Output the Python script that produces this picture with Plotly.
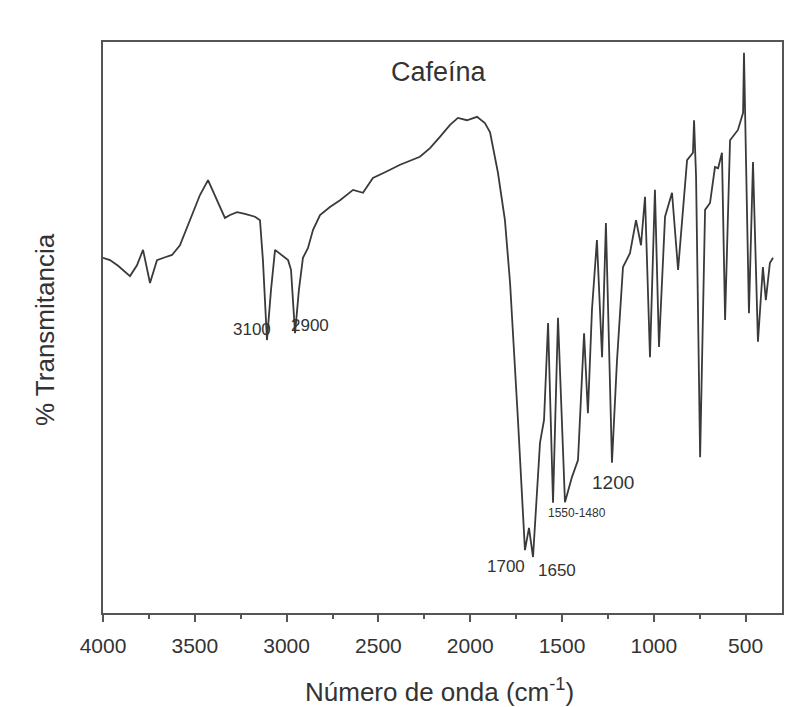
import plotly.graph_objects as go

# Wavenumber (cm^-1) and % transmittance
wavenumber = [4000, 3962, 3918, 3853, 3815, 3782, 3744, 3706, 3662, 3624, 3581, 3526, 3472, 3428,
              3390, 3336, 3308, 3270, 3227, 3172, 3145, 3129, 3107, 3085, 3063, 3025, 2992, 2976,
              2954, 2933, 2911, 2884, 2856, 2818, 2764, 2709, 2638, 2584, 2530, 2464, 2382, 2274,
              2219, 2165, 2110, 2067, 2018, 1963, 1920, 1892, 1849, 1811, 1783, 1740, 1702, 1680,
              1658, 1620, 1598, 1576, 1549, 1522, 1484, 1446, 1413, 1380, 1359, 1337, 1310, 1282,
              1261, 1228, 1201, 1168, 1130, 1097, 1070, 1048, 1021, 994, 972, 939, 901, 868, 819,
              787, 781, 770, 748, 721, 694, 667, 650, 629, 612, 585, 542, 514, 509, 498, 482, 460,
              449, 433, 406, 390, 368, 351]
transmittance = [62.2, 61.8, 60.8, 59.0, 60.9, 63.6, 57.8, 61.8, 62.3, 62.7, 64.4, 68.8, 73.2, 75.8,
                 73.2, 69.2, 69.7, 70.2, 69.9, 69.4, 68.8, 61.8, 47.8, 56.6, 63.6, 62.7, 61.8, 60.1,
                 49.0, 56.6, 62.2, 63.9, 67.1, 69.7, 71.1, 72.3, 74.1, 73.6, 76.2, 77.2, 78.5, 79.9,
                 81.4, 83.4, 85.5, 86.7, 86.3, 86.9, 85.8, 84.2, 77.1, 68.8, 57.8, 33.8, 11.0, 14.9,
                 9.8, 29.8, 33.8, 50.8, 19.3, 51.7, 19.4, 23.8, 26.8, 49.0, 35.0, 53.1, 65.3, 44.8,
                 68.3, 26.3, 44.0, 60.6, 63.0, 68.8, 64.4, 72.9, 44.8, 74.1, 46.6, 69.4, 73.6, 60.1, 79.3,
                 80.6, 86.3, 76.4, 27.3, 70.6, 71.8, 78.1, 77.9, 80.6, 51.3, 82.8, 84.6, 87.6, 98.1, 79.3,
                 52.5, 79.0, 65.3, 47.5, 60.6, 54.8, 61.3, 62.2]

# Peak labels: text, wavenumber position, transmittance position, font size
peak_text = ["3100", "2900", "1700", "1650", "1550-1480", "1200"]
peak_x = [3189, 2873, 1805, 1527, 1418, 1222]
peak_y = [49.6, 50.3, 8.1, 7.5, 17.5, 22.9]
peak_size = [17, 17, 17, 17, 12, 19]

tick_vals = [4000, 3500, 3000, 2500, 2000, 1500, 1000, 500]

FONT = "Liberation Sans, Arial, sans-serif"
TXT = "#333333"

fig = go.Figure()
fig.add_trace(go.Scatter(x=wavenumber, y=transmittance, mode="lines",
                         line=dict(color="#3a3a3a", width=1.8), showlegend=False,
                         hoverinfo="x+y"))

annotations = []
for t, x, y, s in zip(peak_text, peak_x, peak_y, peak_size):
    annotations.append(dict(x=x, y=y, xref="x", yref="y", text=t, showarrow=False,
                            xanchor="center", yanchor="middle",
                            font=dict(family=FONT, size=s, color=TXT)))

annotations.append(dict(x=0.495, y=0.947, xref="paper", yref="paper", text="Cafeína",
                        showarrow=False, xanchor="center", yanchor="middle",
                        font=dict(family=FONT, size=27, color=TXT)))
annotations.append(dict(x=0.496, y=-0.135, xref="paper", yref="paper",
                        text="Número de onda (cm<sup>-1</sup>)", showarrow=False,
                        xanchor="center", yanchor="middle",
                        font=dict(family=FONT, size=26, color=TXT)))
annotations.append(dict(x=-0.0854, y=0.4956, xref="paper", yref="paper",
                        text="% Transmitancia", showarrow=False, textangle=-90,
                        xanchor="center", yanchor="middle",
                        font=dict(family=FONT, size=26, color=TXT)))

fig.update_layout(
    width=806, height=707,
    margin=dict(l=103, r=24, t=42, b=94),
    paper_bgcolor="white", plot_bgcolor="white",
    annotations=annotations,
    xaxis=dict(range=[4000, 302], tickvals=tick_vals, ticks="outside", ticklen=7,
               tickwidth=1.5, tickcolor="#555555", ticklabelstandoff=6,
               minor=dict(ticks="outside", ticklen=4, tickwidth=1.5, tickcolor="#555555", dtick=250),
               showline=True, linecolor="#555555", linewidth=2, mirror=True,
               showgrid=False, zeroline=False,
               tickfont=dict(family=FONT, size=21, color=TXT)),
    yaxis=dict(range=[0, 100], showticklabels=False, ticks="", showline=True,
               linecolor="#555555", linewidth=2, mirror=True, showgrid=False, zeroline=False),
)

fig.write_html("out.html")
